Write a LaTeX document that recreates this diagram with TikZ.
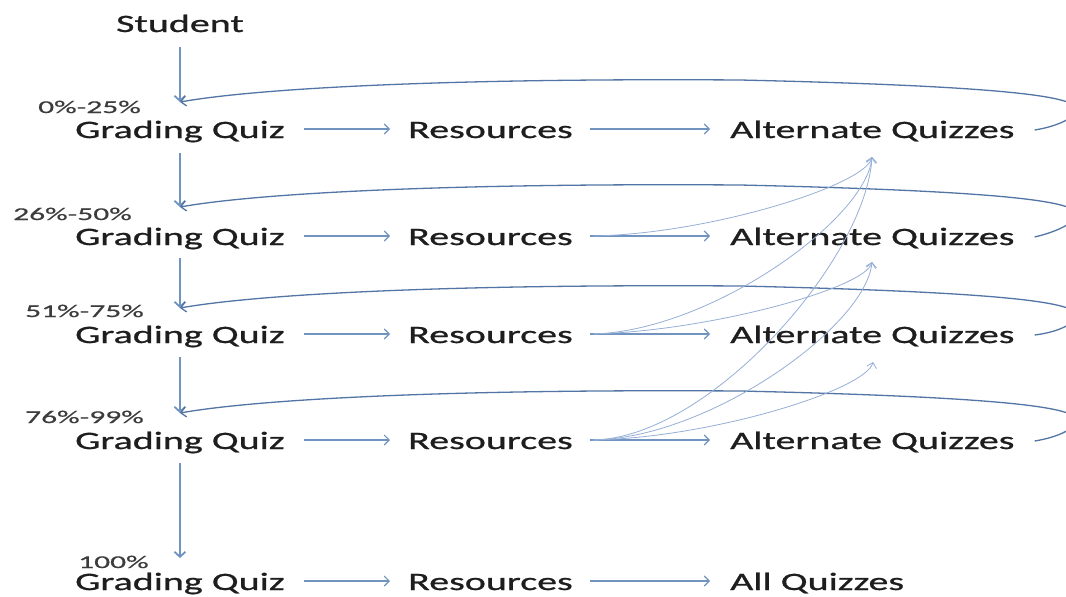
\documentclass[tikz,border=0pt]{standalone}
\usepackage{fontspec}
\newfontfamily\mainf[FakeStretch=1.6,FakeBold=0.9]{Carlito}
\newfontfamily\labf[FakeStretch=1.75,FakeBold=0.6]{Carlito}
\usetikzlibrary{arrows.meta}
\definecolor{txt}{RGB}{30,30,30}
\definecolor{lab}{RGB}{60,60,60}
\definecolor{arrc}{RGB}{112,147,192}
\definecolor{loopc}{RGB}{82,117,165}
\definecolor{curvc}{RGB}{150,175,215}
\begin{document}
\begin{tikzpicture}[x=1pt,y=-1pt,
 txtbox/.style={anchor=base west, inner sep=0pt, font=\mainf\fontsize{25}{25}\selectfont, text=txt},
 pct/.style={anchor=base west, inner sep=0pt, font=\labf\fontsize{18}{18}\selectfont, text=lab},
 harr/.style={draw=arrc, line width=1.1pt, -{Straight Barb[length=5pt,width=10pt]}},
 varr/.style={draw=arrc, line width=1.8pt, -{Straight Barb[length=5pt,width=11pt]}},
 looparr/.style={draw=loopc, line width=1.3pt, -{Straight Barb[length=5pt,width=10pt]}},
 curvarr/.style={draw=curvc, line width=0.8pt, -{Straight Barb[length=5pt,width=10pt]}},
]
\useasboundingbox (0,0) rectangle (1066,597);
\fill[white] (0,0) rectangle (1066,597);
\clip (0,0) rectangle (1066,597);

% texts
\node[txtbox, anchor=base] (st) at (180,32) {Student};
\foreach \k/\b in {1/138,2/245,3/343,4/449,5/590}{
  \node[txtbox] (g\k) at (75,\b) {Grading Quiz};
  \node[txtbox] (r\k) at (408,\b) {Resources};
}
\foreach \k/\b in {1/138,2/245,3/343,4/449}{
  \node[txtbox] (a\k) at (730,\b) {Alternate Quizzes};
}
\node[txtbox] (a5) at (730,590) {All Quizzes};

\node[pct] (p1) at (38,113) {0\%-25\%};
\node[pct] (p2) at (13,220) {26\%-50\%};
\node[pct] (p3) at (25,317) {51\%-75\%};
\node[pct] (p4) at (25,423) {76\%-99\%};
\node[pct] (p5) at (78,568) {100\%};

% tip coordinates above each Grading Quiz
\coordinate (t1) at ([yshift=36pt]g1.base);
\coordinate (t2) at ([yshift=38pt]g2.base);
\coordinate (t3) at ([yshift=35pt]g3.base);
\coordinate (t4) at ([yshift=36pt]g4.base);
\coordinate (t5) at ([yshift=32pt]g5.base);

% tip coordinates below Alternate Quizzes
\coordinate (e1) at ([xshift=142pt,yshift=-19pt]a1.base west);
\coordinate (e2) at ([xshift=142pt,yshift=-17pt]a2.base west);
\coordinate (e3) at ([xshift=143pt,yshift=-19pt]a3.base west);

% horizontal arrows
\foreach \k in {1,...,5}{
  \draw[harr] ([xshift=19pt,yshift=9pt]g\k.base east) -- ([xshift=-18pt,yshift=9pt]r\k.base west);
  \draw[harr] ([xshift=17pt,yshift=9pt]r\k.base east) -- ([xshift=-20pt,yshift=9pt]a\k.base west);
}

% vertical arrows
\draw[varr] ([yshift=-15pt]st.base) -- (t1);
\draw[varr] ([yshift=-15pt]g1.base) -- (t2);
\draw[varr] ([yshift=-13pt]g2.base) -- (t3);
\draw[varr] ([yshift=-14pt]g3.base) -- (t4);
\draw[varr] ([yshift=-14pt]g4.base) -- (t5);

% loops back
\foreach \k/\t in {1/102,2/207,3/308,4/413}{
  \draw[looparr] ([xshift=20pt,yshift=8pt]a\k.base east)
     .. controls (1060,\t+24) and (1078,\t+14) .. (1076,\t+6)
     .. controls (1072,\t-6) and (1000,\t-16) .. (740,\t-22)
     .. controls (450,\t-24) and (260,\t-14) .. (t\k);
}

% curved arrows from Resources to upper Alternate Quizzes
\draw[curvarr] ([xshift=20pt,yshift=9pt]r2.base east) .. controls (710,234) and (866,185) .. (e1);
\draw[curvarr] ([xshift=20pt,yshift=9pt]r3.base east) .. controls (710,331) and (866,220) .. (e1);
\draw[curvarr] ([xshift=20pt,yshift=9pt]r3.base east) .. controls (710,331) and (866,288) .. (e2);
\draw[curvarr] ([xshift=20pt,yshift=9pt]r4.base east) .. controls (710,438) and (866,259) .. (e1);
\draw[curvarr] ([xshift=20pt,yshift=9pt]r4.base east) .. controls (710,438) and (866,326) .. (e2);
\draw[curvarr] ([xshift=20pt,yshift=9pt]r4.base east) .. controls (710,438) and (866,390) .. (e3);
\end{tikzpicture}
\end{document}
